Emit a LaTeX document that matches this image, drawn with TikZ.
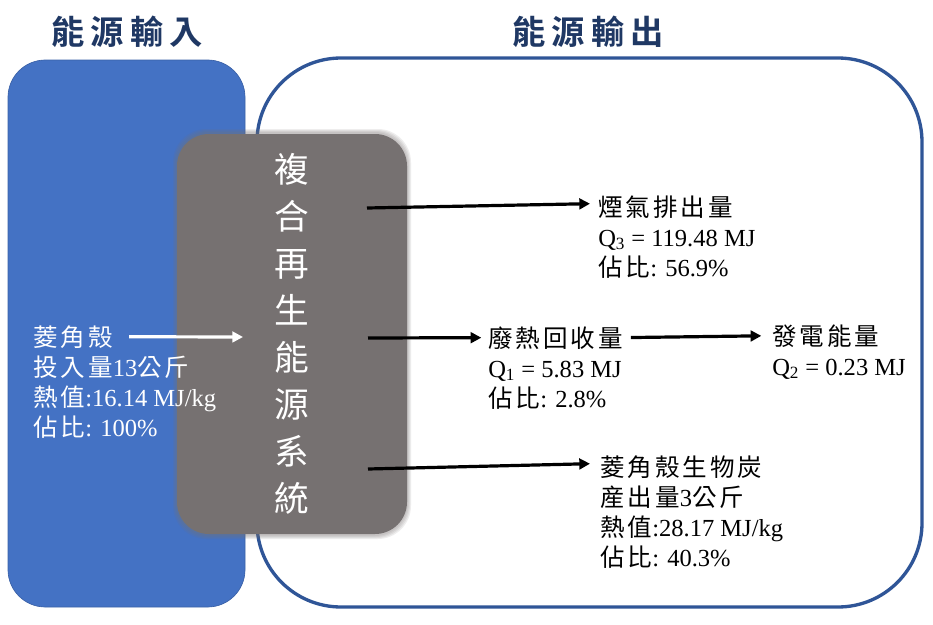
\documentclass[tikz,border=0pt]{standalone}
\usepackage{fontspec}
\setmainfont{Liberation Serif}
\newfontfamily\cjk[LetterSpace=12]{Noto Sans CJK TC}
\newfontfamily\cjkhead[LetterSpace=18]{Noto Sans CJK TC Bold}
\usetikzlibrary{arrows.meta,calc,positioning}
\definecolor{inblue}{HTML}{4472C4}
\definecolor{outblue}{HTML}{2F5597}
\definecolor{navy}{HTML}{1F3864}
\definecolor{sysgray}{HTML}{767171}
\newcommand\zh[1]{{\cjk #1}}
\tikzset{
  panelhead/.style={font=\fontsize{25}{29}\selectfont\cjkhead, text=navy, inner sep=0pt},
  txt/.style={font=\fontsize{18.4}{22.5}\selectfont, inner sep=0pt, anchor=base west},
  flow/.style={line width=2.4pt, -{Triangle[length=8pt,width=8pt]}},
}
\begin{document}
\begin{tikzpicture}[x=0.75pt, y=-0.75pt]
  \useasboundingbox (0,0) rectangle (933,625);
  % panels
  \draw[inblue!85!black, line width=0.5pt, fill=inblue, rounded corners=28pt] (8,60) rectangle (245,607);
  \draw[outblue, line width=2.5pt, fill=white, rounded corners=63pt] (257,58) rectangle (922,607);
  \node[panelhead] (inhead) at (127,32) {能源輸入};
  \node[panelhead] (outhead) at (588,32) {能源輸出};
  % soft edge round the system box
  \foreach \g in {1,...,4}
    \fill[sysgray, opacity=0.12, rounded corners=25pt] (177-\g,133-\g) rectangle (407+\g,535+\g);
  \node[fill=sysgray, rounded corners=24pt, minimum width=172.5pt, minimum height=300pt,
        text=white, align=center, font=\fontsize{26}{35.2}\selectfont\cjk] (sys) at (292,334)
        {複\\合\\再\\生\\能\\源\\系\\統};
  % input
  \node[txt, text=white] (husk) at (33,346) {\zh{菱角殼}};
  \node[txt, text=white] (huskmass) at ($(husk.base west)+(0,30)$) {\zh{投入量}13\zh{公斤}};
  \node[txt, text=white] (huskheat) at ($(huskmass.base west)+(0,30)$) {\zh{熱值}:16.14 MJ/kg};
  \node[txt, text=white] (huskpct) at ($(huskheat.base west)+(0,30)$) {\zh{佔比}: 100\%};
  \coordinate (sysin) at (243,337);
  \draw[flow, white, shorten <=12pt] (husk.east) -- (sysin);
  % outputs
  \node[txt] (smoke) at (598,216) {\zh{煙氣排出量}};
  \node[txt] (smokeq) at ($(smoke.base west)+(0,30)$) {Q\textsubscript{3} = 119.48 MJ};
  \node[txt] (smokepct) at ($(smokeq.base west)+(0,30)$) {\zh{佔比}: 56.9\%};
  \node[txt] (heat) at (488,347) {\zh{廢熱回收量}};
  \node[txt] (heatq) at ($(heat.base west)+(0,30)$) {Q\textsubscript{1} = 5.83 MJ};
  \node[txt] (heatpct) at ($(heatq.base west)+(0,30)$) {\zh{佔比}: 2.8\%};
  \node[txt] (power) at (772,345) {\zh{發電能量}};
  \node[txt] (powerq) at ($(power.base west)+(0,30)$) {Q\textsubscript{2} = 0.23 MJ};
  \node[txt] (char) at (600,476) {\zh{菱角殼生物炭}};
  \node[txt] (charmass) at ($(char.base west)+(0,30)$) {\zh{産出量}3\zh{公斤}};
  \node[txt] (charheat) at ($(charmass.base west)+(0,30)$) {\zh{熱值}:28.17 MJ/kg};
  \node[txt] (charpct) at ($(charheat.base west)+(0,30)$) {\zh{佔比}: 40.3\%};
  \coordinate (o1) at (367,208);
  \coordinate (o2) at (368,338);
  \coordinate (o3) at (368,469);
  \draw[flow] (o1) -- ($(smoke.west)+(-8,-3)$);
  \draw[flow, shorten >=5pt] (o2) -- (heat.west);
  \draw[flow] (o3) -- ($(char.west)+(-10,-3)$);
  \draw[flow, shorten <=6pt, shorten >=8pt] (heat.east) -- (power.west);
\end{tikzpicture}
\end{document}
